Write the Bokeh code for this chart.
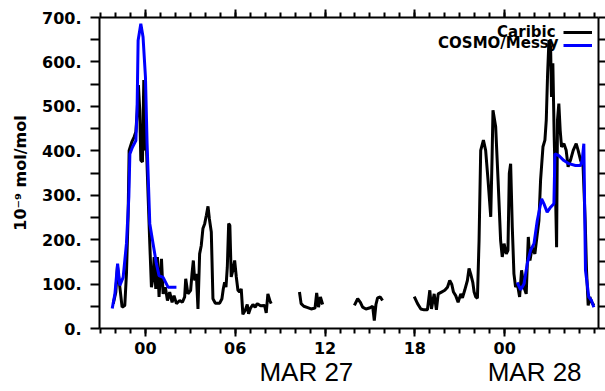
import math
from bokeh.plotting import figure
from bokeh.models import LinearAxis, FixedTicker, Range1d, Label, Legend, LegendItem
from bokeh.embed import file_html
from bokeh.resources import INLINE

NaN = float("nan")

# time in hours since 27 Mar 00:00
caribic_hours = [
    -2.15, -1.98, -1.87, -1.71, -1.56, -1.38, -1.27, -1.16, -1.09, -0.91, -0.76, -0.64,
    -0.56, -0.47, -0.38, -0.31, -0.20, -0.11, -0.02, 0.07, 0.18, 0.29, 0.40, 0.51, 0.58,
    0.69, 0.80, 0.91, 1.07, 1.18, 1.33, 1.47, 1.62, 1.78, 1.91, 2.07, 2.29, 2.47, 2.62,
    2.69, 2.84, 3.02, 3.11, 3.20, 3.29, 3.40, 3.51, 3.62, 3.73, 3.84, 3.96, 4.07, 4.18,
    4.27, 4.40, 4.51, 4.67, 4.96, 5.11, 5.20, 5.29, 5.38, 5.47, 5.56, 5.64, 5.73, 5.84,
    5.96, 6.07, 6.18, 6.29, 6.40, 6.51, 6.67, 6.80, 6.89, 7.02, 7.18, 7.33, 7.47, 7.69,
    7.96, 8.07, 8.18, 8.31, 8.40,
    9.30,
    10.29, 10.40, 10.58, 10.84, 11.07, 11.33, 11.44, 11.56, 11.69, 11.84,
    12.90,
    13.96, 14.18, 14.36, 14.51, 14.73, 14.96, 15.18, 15.29, 15.40, 15.51, 15.69, 15.84,
    16.90,
    17.96, 18.18, 18.40, 18.62, 18.84, 19.00, 19.11, 19.29, 19.44, 19.56, 19.78, 20.00,
    20.18, 20.33, 20.47, 20.58, 20.73, 20.89, 21.07, 21.18, 21.33, 21.51, 21.62, 21.73,
    21.87, 21.96, 22.07, 22.18, 22.29, 22.40, 22.58, 22.73, 22.89, 23.07, 23.16, 23.22,
    23.40, 23.56, 23.73, 23.84, 23.96, 24.11, 24.22, 24.31, 24.40, 24.51, 24.62, 24.73,
    24.85, 25.00, 25.13, 25.29, 25.44, 25.58, 25.69, 25.84, 26.02, 26.18, 26.29, 26.40,
    26.56, 26.69, 26.78, 26.87, 26.96, 27.07, 27.13, 27.22, 27.31, 27.40, 27.47, 27.53,
    27.62, 27.71, 27.80, 27.96, 28.11, 28.24, 28.40, 28.58, 28.78, 28.91, 29.07, 29.24,
    29.38, 29.47, 29.58, 29.69, 29.82, 29.96,
]
caribic_ppb = [
    56, 82, 140, 93, 48, 52, 123, 251, 401, 420, 431, 443,
    484, 548, 491, 379, 375, 559, 401, 405, 296, 191, 93, 116, 161,
    89, 161, 71, 157, 78, 93, 63, 82, 59, 74, 56, 63, 59, 71,
    112, 78, 86, 123, 153, 108, 123, 44, 168, 187, 225, 236, 255, 275,
    247, 217, 67, 57, 57, 67, 89, 104, 93, 138, 236, 232, 116, 131,
    153, 116, 86, 82, 89, 32, 41, 54, 33, 46, 54, 48, 56, 51,
    52, 35, 78, 63, 56,
    NaN,
    82, 56, 50, 47, 44, 46, 80, 48, 71, 54,
    NaN,
    52, 67, 59, 48, 44, 46, 50, 18, 54, 69, 71, 63,
    NaN,
    72, 56, 44, 42, 42, 86, 44, 78, 42, 78, 82, 86,
    93, 108, 99, 82, 74, 59, 78, 69, 86, 108, 135, 123,
    104, 82, 71, 68, 198, 401, 424, 401, 334, 251, 386, 491,
    454, 334, 198, 161, 191, 168, 176, 349, 371, 228, 123, 93,
    101, 71, 131, 93, 78, 206, 153, 183, 168, 213, 243, 334,
    409, 424, 469, 574, 649, 634, 521, 597, 431, 304, 183, 469,
    506, 446, 409, 416, 401, 364, 379, 401, 416, 401, 379, 364,
    243, 131, 52, 71, 59, 52,
]

cosmo_hours = [
    -2.22, -2.04, -1.86, -1.71, -1.49, -1.27, -1.11, -1.04, -0.87, -0.64, -0.56, -0.49,
    -0.31, -0.16, 0.00, 0.11, 0.29, 0.51, 0.73, 0.91, 1.18, 1.51, 2.07,
    13.0,
    24.84, 25.07, 25.29, 25.51, 25.73, 25.96, 26.18, 26.47, 26.62, 26.84, 27.07, 27.29,
    27.36, 27.62, 27.96, 28.29, 28.73, 29.07, 29.18, 29.29, 29.40, 29.62, 29.80, 29.96,
]
cosmo_ppb = [
    45, 78, 146, 97, 115, 191, 296, 393, 408, 423, 491, 648,
    686, 656, 566, 416, 236, 191, 146, 119, 115, 93, 93,
    NaN,
    104, 87, 100, 146, 176, 191, 243, 292, 281, 262, 273, 281,
    393, 389, 378, 371, 367, 367, 378, 416, 131, 71, 63, 48,
]

hour_ticks = [0, 6, 12, 18, 24]
hour_labels = ["00", "06", "12", "18", "00"]
hour_minor = list(range(-3, 31))
date_ticks = [10.75, 26.0]
date_labels = ["MAR 27", "MAR 28"]
y_ticks = [0, 100, 200, 300, 400, 500, 600, 700]
y_labels = ["0.", "100.", "200.", "300.", "400.", "500.", "600.", "700."]
y_minor = [50, 150, 250, 350, 450, 550, 650]
series_names = ["Caribic", "COSMO/Messy"]

TICKFONT = "DejaVu Sans"

p = figure(width=605, height=391, output_backend="svg", toolbar_location=None,
           x_range=Range1d(-3.07, 30.27), y_range=Range1d(0, 700),
           x_axis_location=None, y_axis_location=None,
           min_border_left=99, min_border_right=7, min_border_top=17, min_border_bottom=63)
p.grid.visible = False
p.outline_line_color = None
p.background_fill_color = "white"
p.border_fill_color = "white"


def style_axis(ax, tick_out, minor_out):
    ax.axis_line_width = 2
    ax.axis_line_color = "black"
    ax.major_tick_line_width = 2
    ax.minor_tick_line_width = 2
    ax.major_tick_in = 0
    ax.minor_tick_in = 0
    ax.major_tick_out = tick_out
    ax.minor_tick_out = minor_out
    ax.major_label_text_font = TICKFONT
    ax.major_label_text_font_style = "bold"
    ax.major_label_text_font_size = "16px"
    ax.major_label_text_color = "black"


xt = FixedTicker(ticks=hour_ticks, minor_ticks=hour_minor)
yt = FixedTicker(ticks=y_ticks, minor_ticks=y_minor)

bottom = LinearAxis(ticker=xt, major_label_overrides=dict(zip(hour_ticks, hour_labels)))
style_axis(bottom, 8, 5)
bottom.major_label_standoff = 5
p.add_layout(bottom, "below")

dates = LinearAxis(ticker=FixedTicker(ticks=date_ticks, minor_ticks=[]),
                   major_label_overrides=dict(zip(date_ticks, date_labels)))
dates.axis_line_color = None
dates.major_tick_line_color = None
dates.minor_tick_line_color = None
dates.major_tick_out = 0
dates.major_label_standoff = 0
dates.major_label_text_font = "Liberation Sans"
dates.major_label_text_font_style = "normal"
dates.major_label_text_font_size = "26px"
dates.major_label_text_color = "black"
p.add_layout(dates, "below")

top = LinearAxis(ticker=xt)
style_axis(top, 8, 5)
top.major_label_text_font_size = "1px"
top.major_label_text_color = None
top.major_label_standoff = 0
p.add_layout(top, "above")

left = LinearAxis(ticker=yt, major_label_overrides=dict(zip(y_ticks, y_labels)),
                  axis_label="10\u207b\u2079 mol/mol")
style_axis(left, 9, 9)
left.major_label_standoff = 9
left.axis_label_text_font = TICKFONT
left.axis_label_text_font_style = "bold"
left.axis_label_text_font_size = "16px"
left.axis_label_text_color = "black"
left.axis_label_standoff = 9
p.add_layout(left, "left")

right = LinearAxis(ticker=yt)
style_axis(right, 7, 7)
right.major_label_text_font_size = "1px"
right.major_label_text_color = None
right.major_label_standoff = 0
p.add_layout(right, "right")

r_car = p.line(caribic_hours, caribic_ppb, line_color="black", line_width=3)
r_cos = p.line(cosmo_hours, cosmo_ppb, line_color="#0000ff", line_width=3)

legend = Legend(items=[LegendItem(label=" ", renderers=[r_car]),
                       LegendItem(label=" ", renderers=[r_cos])],
                location=(464, 277), glyph_width=29, glyph_height=12, spacing=1,
                label_width=0, label_height=12, label_standoff=0,
                label_text_font_size="1px", padding=0, margin=0,
                border_line_color=None, background_fill_alpha=0)
p.add_layout(legend)

for name, xv, yv in [(series_names[0], 27.4, 668), (series_names[1], 27.6, 643)]:
    p.add_layout(Label(x=xv, y=yv, text=name, text_align="right", text_baseline="middle",
                       text_font=TICKFONT, text_font_style="bold", text_font_size="15px",
                       text_color="black"))

open("out.html", "w").write(file_html(p, INLINE))
